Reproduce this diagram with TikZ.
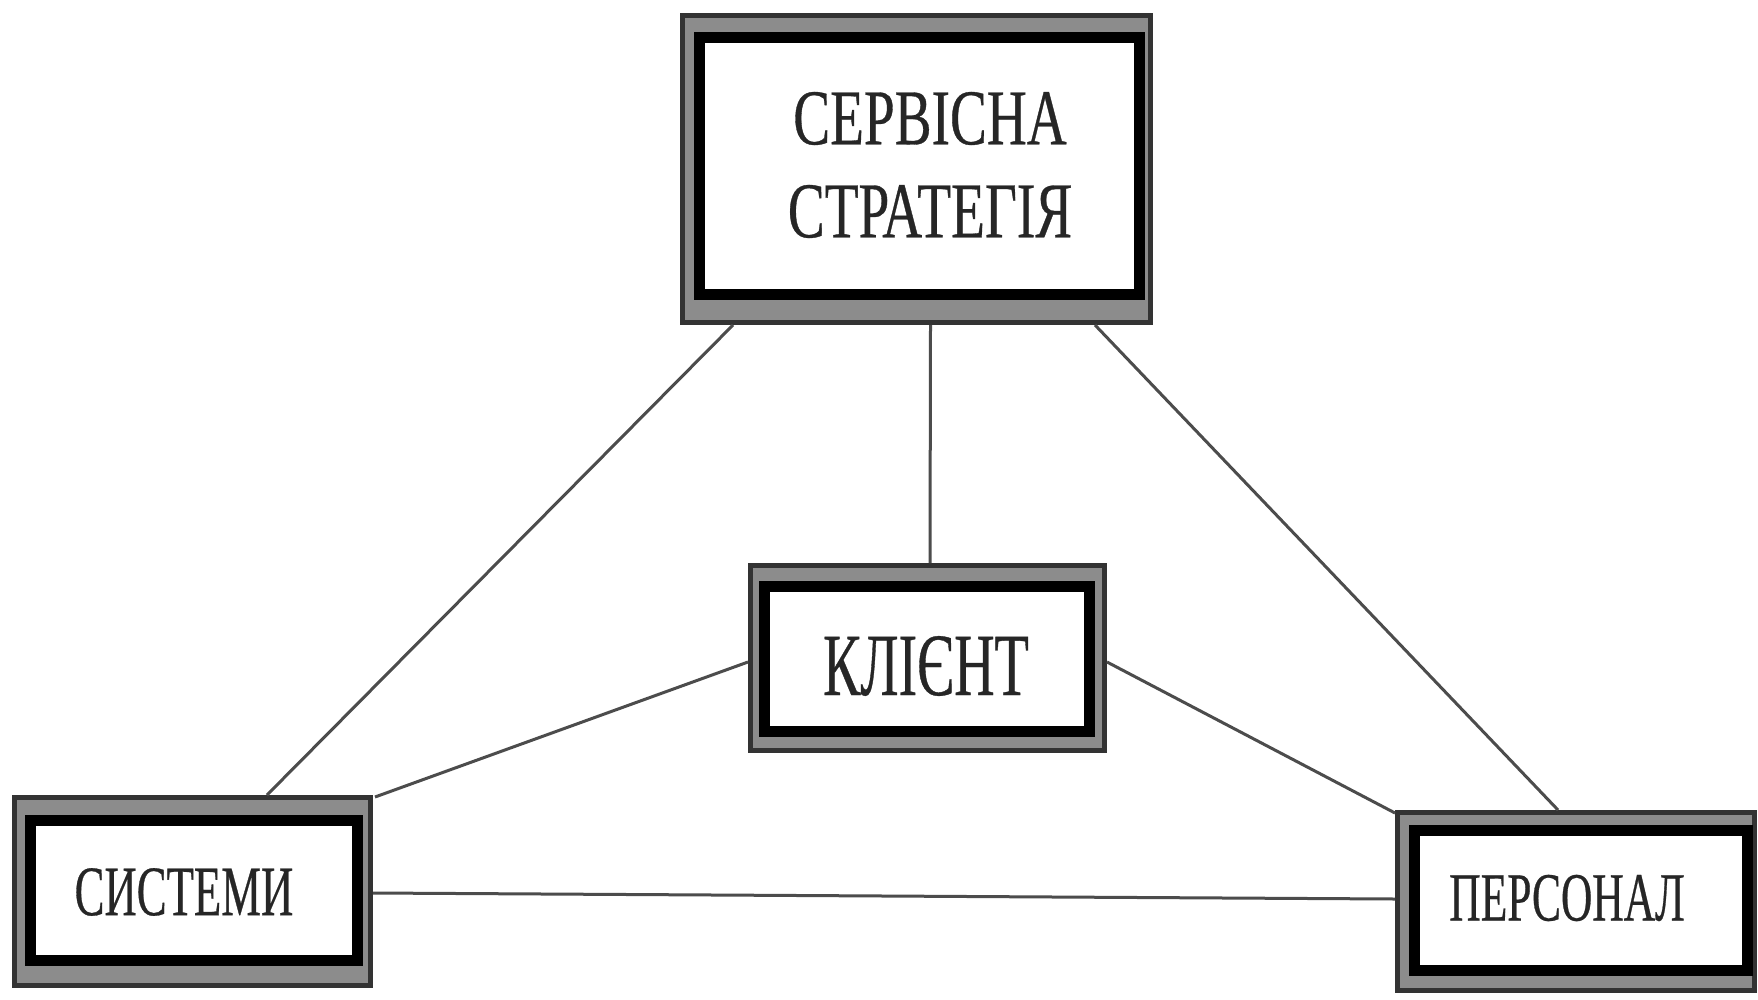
\documentclass[tikz,border=0pt]{standalone}
\usepackage{fontspec}
\newfontfamily\cond[FakeStretch=0.63,FakeBold=0.4]{Liberation Serif}
\newfontfamily\condwide[FakeStretch=0.7,FakeBold=0.4]{Liberation Serif}
\usetikzlibrary{calc}
\tikzset{
  outerbox/.style={draw=black!80, line width=5pt, fill=black!45, inner sep=0pt, rectangle},
  innerbox/.style={draw=black, line width=11pt, fill=white, inner sep=0pt, rectangle},
  lbl/.style={inner sep=0pt, text=black!85, align=center},
  link/.style={draw=black!70, line width=3pt},
}
\begin{document}
\begin{tikzpicture}[x=1pt, y=-1pt]
\useasboundingbox[fill=white] (0,0) rectangle (1758,999);

% outer frames
\node[outerbox, minimum width=468pt, minimum height=307pt] (topo) at (916.5,169) {};
\node[outerbox, minimum width=354pt, minimum height=185pt] (cli) at (927.5,658) {};
\node[outerbox, minimum width=356pt, minimum height=188pt] (sys) at (192.5,891.5) {};
\node[outerbox, minimum width=357pt, minimum height=178pt] (pers) at (1576,901.5) {};

% connectors (behind the inner frames)
\draw[link] ($(topo.south west)+(53,0)$) -- ($(sys.north west)+(255,0)$);
\draw[link] ($(topo.south)+(14,0)$) -- ($(cli.north)+(2.5,0)$);
\draw[link] ($(topo.south east)+(-58,0)$) -- ($(pers.north west)+(163,0)$);
\draw[link] ($(cli.west)+(0,4)$) -- ($(sys.north east)+(2,2)$);
\draw[link] ($(cli.east)+(0,4)$) -- ($(pers.north west)+(0,3)$);
\draw[link] ($(sys.east)+(0,1.5)$) -- ($(pers.west)+(0,-2.5)$);

% inner frames
\node[innerbox, minimum width=440pt, minimum height=257.5pt] (topi) at (919,166) {};
\node[innerbox, minimum width=325pt, minimum height=145pt] (clii) at (926.5,658.5) {};
\node[innerbox, minimum width=327pt, minimum height=140pt] (sysi) at (193.5,890) {};
\node[innerbox, minimum width=333pt, minimum height=140pt] (persi) at (1580.5,900) {};

% labels
\node[lbl, font={\condwide\fontsize{79}{93}\selectfont}] (topt) at (930,165) {СЕРВІСНА\\СТРАТЕГІЯ};
\node[lbl, font={\cond\fontsize{89}{96}\selectfont}] (clit) at (926,666) {КЛІЄНТ};
\node[lbl, font={\cond\fontsize{71}{78}\selectfont}] (syst) at (184,892) {СИСТЕМИ};
\node[lbl, font={\cond\fontsize{69}{78}\selectfont}] (perst) at (1567,898) {ПЕРСОНАЛ};
\end{tikzpicture}
\end{document}
